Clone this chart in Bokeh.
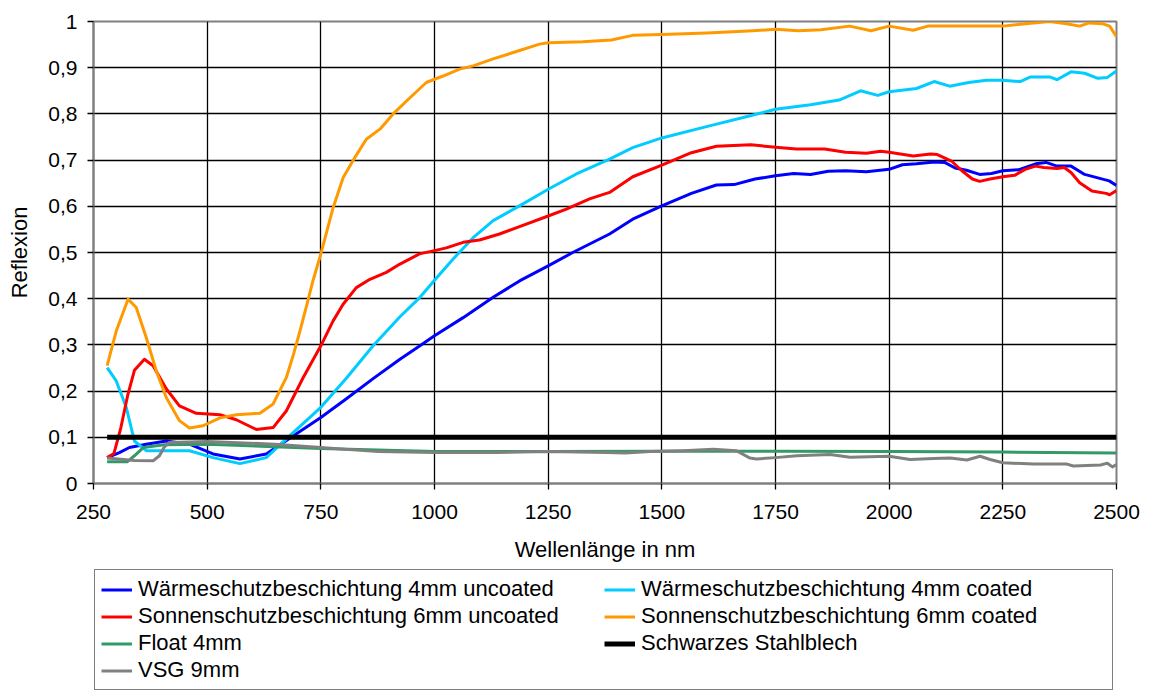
from bokeh.plotting import figure
from bokeh.layouts import column
from bokeh.models import Range1d, FixedTicker, Legend, LegendItem
from bokeh.embed import file_html
from bokeh.resources import INLINE

# ---------------- data ----------------
x_ticks = [250, 500, 750, 1000, 1250, 1500, 1750, 2000, 2250, 2500]
x_tick_labels = ["250", "500", "750", "1000", "1250", "1500", "1750", "2000", "2250", "2500"]
y_ticks = [0, 0.1, 0.2, 0.3, 0.4, 0.5, 0.6, 0.7, 0.8, 0.9, 1]
y_tick_labels = ["0", "0,1", "0,2", "0,3", "0,4", "0,5", "0,6", "0,7", "0,8", "0,9", "1"]

series_names = [
    "Wärmeschutzbeschichtung 4mm uncoated",
    "Wärmeschutzbeschichtung 4mm coated",
    "Sonnenschutzbeschichtung 6mm uncoated",
    "Sonnenschutzbeschichtung 6mm coated",
    "Float 4mm",
    "Schwarzes Stahlblech",
    "VSG 9mm",
]

waerme_uncoated_wl = [280, 307, 329, 366, 410, 461, 513, 572, 630, 689, 750, 807, 865, 924, 968,
                      1000, 1063, 1129, 1188, 1250, 1304, 1385, 1436, 1500, 1565, 1620, 1659, 1705,
                      1750, 1790, 1827, 1866, 1904, 1950, 2000, 2029, 2060, 2099, 2122, 2145, 2170,
                      2199, 2225, 2250, 2284, 2322, 2345, 2369, 2400, 2430, 2461, 2484, 2500]
waerme_uncoated = [0.056, 0.067, 0.078, 0.085, 0.092, 0.085, 0.064, 0.053, 0.064, 0.103, 0.143,
                   0.184, 0.227, 0.269, 0.298, 0.32, 0.359, 0.403, 0.439, 0.471, 0.50, 0.54,
                   0.572, 0.601, 0.628, 0.646, 0.647, 0.659, 0.666, 0.671, 0.669, 0.676, 0.677,
                   0.675, 0.68, 0.69, 0.692, 0.696, 0.695, 0.683, 0.678, 0.669, 0.671, 0.677,
                   0.679, 0.692, 0.695, 0.687, 0.687, 0.669, 0.661, 0.655, 0.645]

waerme_coated_wl = [280, 300, 322, 340, 366, 403, 461, 513, 572, 630, 689, 750, 807, 865, 924,
                    968, 1000, 1041, 1085, 1129, 1187, 1250, 1312, 1385, 1436, 1500, 1596, 1690,
                    1750, 1827, 1890, 1937, 1975, 2000, 2060, 2099, 2133, 2175, 2214, 2250, 2288,
                    2311, 2353, 2369, 2400, 2430, 2459, 2480, 2500]
waerme_coated = [0.251, 0.222, 0.165, 0.092, 0.071, 0.071, 0.071, 0.056, 0.043, 0.056, 0.11,
                 0.165, 0.229, 0.298, 0.361, 0.403, 0.44, 0.486, 0.532, 0.569, 0.601, 0.637,
                 0.67, 0.702, 0.727, 0.748, 0.772, 0.795, 0.81, 0.82, 0.83, 0.85, 0.84, 0.848,
                 0.855, 0.87, 0.86, 0.868, 0.873, 0.873, 0.87, 0.88, 0.88, 0.874, 0.891, 0.888,
                 0.877, 0.879, 0.893]

sonnen_uncoated_wl = [280, 295, 310, 325, 340, 362, 381, 410, 439, 476, 528, 564, 608, 645, 674,
                      711, 750, 777, 799, 828, 858, 894, 924, 967, 1000, 1026, 1063, 1099, 1143,
                      1187, 1250, 1290, 1341, 1385, 1436, 1500, 1565, 1620, 1696, 1750, 1796,
                      1858, 1904, 1950, 1981, 2000, 2053, 2091, 2106, 2137, 2160, 2183, 2199,
                      2222, 2250, 2276, 2299, 2322, 2340, 2369, 2385, 2400, 2419, 2446, 2477,
                      2485, 2500]
sonnen_uncoated = [0.056, 0.065, 0.12, 0.19, 0.245, 0.269, 0.255, 0.205, 0.168, 0.152, 0.149,
                   0.138, 0.117, 0.121, 0.157, 0.229, 0.298, 0.352, 0.388, 0.424, 0.442, 0.457,
                   0.475, 0.497, 0.504, 0.51, 0.522, 0.527, 0.54, 0.556, 0.579, 0.594, 0.616,
                   0.63, 0.664, 0.689, 0.716, 0.73, 0.733, 0.728, 0.724, 0.724, 0.717, 0.715,
                   0.719, 0.717, 0.709, 0.713, 0.712, 0.698, 0.677, 0.659, 0.654, 0.659, 0.664,
                   0.667, 0.68, 0.687, 0.684, 0.682, 0.684, 0.673, 0.651, 0.633, 0.628, 0.625,
                   0.634]

sonnen_coated_wl = [280, 300, 326, 344, 366, 388, 410, 439, 461, 491, 528, 564, 616, 645, 674,
                    690, 704, 720, 733, 750, 777, 799, 825, 850, 880, 909, 946, 982, 1000, 1019,
                    1055, 1085, 1129, 1180, 1231, 1250, 1326, 1389, 1436, 1500, 1600, 1700, 1750,
                    1800, 1850, 1913, 1960, 2000, 2053, 2085, 2150, 2250, 2300, 2353, 2390, 2419,
                    2440, 2470, 2485, 2500]
sonnen_coated = [0.255, 0.33, 0.399, 0.381, 0.316, 0.244, 0.186, 0.136, 0.12, 0.125, 0.142,
                 0.149, 0.152, 0.172, 0.229, 0.28, 0.33, 0.39, 0.44, 0.497, 0.597, 0.662, 0.706,
                 0.745, 0.767, 0.80, 0.835, 0.868, 0.875, 0.882, 0.897, 0.904, 0.919, 0.935,
                 0.951, 0.954, 0.956, 0.96, 0.97, 0.972, 0.975, 0.98, 0.983, 0.98, 0.982, 0.99,
                 0.98, 0.99, 0.981, 0.99, 0.99, 0.99, 0.995, 1.0, 0.995, 0.99, 0.997, 0.995,
                 0.99, 0.967]

float_wl = [280, 324, 340, 360, 405, 500, 750, 1000, 1250, 1500, 1750, 2000, 2250, 2500]
float_4mm = [0.047, 0.047, 0.06, 0.078, 0.084, 0.085, 0.076, 0.069, 0.069, 0.07, 0.07, 0.069,
             0.068, 0.066]

stahl_wl = [280, 2500]
stahl = [0.1, 0.1]

vsg_wl = [280, 340, 381, 395, 405, 417, 500, 649, 750, 876, 1000, 1136, 1250, 1380, 1420, 1474,
          1547, 1613, 1664, 1694, 1708, 1750, 1797, 1870, 1914, 2000, 2046, 2098, 2134, 2171,
          2200, 2222, 2250, 2318, 2391, 2405, 2465, 2480, 2491, 2500]
vsg_9mm = [0.055, 0.05, 0.049, 0.06, 0.078, 0.089, 0.091, 0.085, 0.078, 0.069, 0.067, 0.067,
           0.069, 0.067, 0.066, 0.069, 0.071, 0.074, 0.071, 0.055, 0.053, 0.056, 0.06, 0.063,
           0.057, 0.059, 0.052, 0.054, 0.055, 0.051, 0.059, 0.052, 0.045, 0.042, 0.042, 0.038,
           0.04, 0.044, 0.036, 0.041]

colors = ["#0000FF", "#00CCFF", "#FF0000", "#FF9900", "#339966", "#000000", "#808080"]
widths = [3, 3, 3, 3, 3, 5, 3]
xs = [waerme_uncoated_wl, waerme_coated_wl, sonnen_uncoated_wl, sonnen_coated_wl, float_wl, stahl_wl, vsg_wl]
ys = [waerme_uncoated, waerme_coated, sonnen_uncoated, sonnen_coated, float_4mm, stahl, vsg_9mm]

FONT = "Liberation Sans"

# ---------------- main chart ----------------
p = figure(frame_width=1023, frame_height=462, x_range=Range1d(250, 2500), y_range=Range1d(0, 1),
           output_backend="svg", toolbar_location=None,
           min_border_left=93, min_border_right=34, min_border_top=21, min_border_bottom=86)
p.background_fill_color = "white"
p.border_fill_color = "white"
p.outline_line_color = "#808080"
p.outline_line_width = 2

p.xaxis.ticker = FixedTicker(ticks=x_ticks)
p.yaxis.ticker = FixedTicker(ticks=y_ticks)
p.xaxis.major_label_overrides = {t: l for t, l in zip(x_ticks, x_tick_labels)}
p.yaxis.major_label_overrides = {t: l for t, l in zip(y_ticks, y_tick_labels)}
p.xgrid.ticker = FixedTicker(ticks=x_ticks)
p.ygrid.ticker = FixedTicker(ticks=y_ticks)
for g in (p.xgrid[0], p.ygrid[0]):
    g.grid_line_color = "black"
    g.grid_line_width = 1.3

p.xaxis.axis_label = "Wellenlänge in nm"
p.yaxis.axis_label = "Reflexion"
for ax in (p.xaxis[0], p.yaxis[0]):
    ax.axis_line_color = "#808080"
    ax.axis_line_width = 2
    ax.major_tick_line_color = "black"
    ax.major_tick_line_width = 1.3
    ax.major_tick_out = 6
    ax.major_tick_in = 0
    ax.minor_tick_line_color = None
    ax.major_label_text_font = FONT
    ax.major_label_text_font_size = "21px"
    ax.major_label_text_color = "black"
    ax.axis_label_text_font = FONT
    ax.axis_label_text_font_size = "22px"
    ax.axis_label_text_font_style = "normal"
    ax.axis_label_text_color = "black"
p.xaxis.major_label_standoff = 15
p.yaxis.major_label_standoff = 10
p.xaxis.axis_label_standoff = 15
p.yaxis.axis_label_standoff = 13

order = [0, 1, 2, 3, 4, 6, 5]
for i in order:
    p.line(xs[i], ys[i], line_color=colors[i], line_width=widths[i], line_join="round")

# ---------------- legend strip (same series, ranges chosen so only the legend shows) ----------------
lg = figure(width=1150, height=122, x_range=Range1d(0, 1), y_range=Range1d(0, 1),
            x_axis_type=None, y_axis_type=None, output_backend="svg", toolbar_location=None,
            min_border=0)
lg.outline_line_color = None
lg.background_fill_color = "white"
lg.border_fill_color = "white"
lg.xgrid.visible = False
lg.ygrid.visible = False

items = []
for i in range(len(series_names)):
    r = lg.line(xs[i], ys[i], line_color=colors[i], line_width=widths[i])
    items.append(LegendItem(label=series_names[i], renderers=[r]))

legend = Legend(items=items, location=(1, 1), orientation="horizontal", ncols=2,
                label_text_font=FONT, label_text_font_size="22px", label_text_color="black",
                glyph_width=31, glyph_height=25, label_height=25, label_standoff=6,
                label_width=465, spacing=1, padding=6, margin=0,
                border_line_color="black", border_line_width=1,
                background_fill_color="white", background_fill_alpha=1.0)
lg.add_layout(legend)

layout = column(p, lg, spacing=0)
open("out.html", "w").write(file_html(layout, INLINE))
